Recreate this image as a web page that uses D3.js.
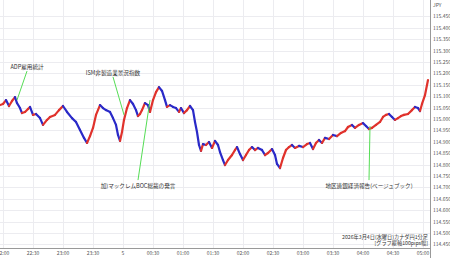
<!DOCTYPE html>
<html>
<head>
<meta charset="utf-8">
<script src="https://cdn.jsdelivr.net/npm/d3@7"></script>
<style>
  body { margin: 0; background: #fff; }
  svg { display: block; font-family: "Noto Sans CJK JP", "Noto Sans", sans-serif; }
</style>
</head>
<body>
<svg id="chart" width="450" height="258"></svg>
<script>
// CAD/JPY 1-minute closes (times before noon are on the 5th)
const times = [
  "21:57","22:00","22:03","22:06","22:09","22:12","22:14","22:17","22:19","22:22",
  "22:25","22:27","22:30","22:33","22:37","22:40","22:44","22:47","22:52","22:56",
  "23:00","23:04","23:09","23:13","23:17","23:21","23:24","23:27","23:30","23:33",
  "23:37","23:40","23:43","23:47","23:50","23:53","23:55","23:57","23:59","00:01",
  "00:04","00:07","00:10","00:13","00:15","00:17","00:19","00:22","00:25","00:27",
  "00:30","00:33","00:36","00:39","00:42","00:44","00:47","00:50","00:53","00:56",
  "00:58","01:01","01:04","01:07","01:10","01:12","01:14","01:16","01:18","01:20",
  "01:23","01:26","01:29","01:32","01:35","01:37","01:40","01:42","01:45","01:49",
  "01:52","01:54","01:57","02:00","02:03","02:06","02:09","02:12","02:15","02:19",
  "02:22","02:25","02:29","02:32","02:34","02:37","02:40","02:43","02:46","02:49",
  "02:52","02:56","03:00","03:04","03:07","03:10","03:13","03:16","03:19","03:22",
  "03:26","03:30","03:34","03:38","03:42","03:45","03:49","03:52","03:56","04:00",
  "04:03","04:06","04:09","04:13","04:17","04:20","04:23","04:26","04:29","04:32",
  "04:35","04:38","04:41","04:45","04:49","04:52","04:55","04:57","04:59","05:02",
  "05:05"
];
const prices = [
  115.061,115.066,115.083,115.057,115.079,115.096,115.070,115.048,115.026,115.031,
  115.044,115.053,115.018,115.022,115.004,114.974,114.996,115.009,115.018,115.039,
  115.057,115.031,115.004,114.987,114.952,114.917,114.895,114.925,114.961,115.018,
  115.061,115.048,115.039,115.031,115.004,114.974,114.930,114.904,114.943,114.996,
  115.048,115.083,115.066,115.039,115.013,115.022,115.039,115.070,115.061,115.031,
  115.083,115.118,115.140,115.123,115.083,115.053,115.061,115.053,115.048,115.031,
  115.048,115.026,115.039,115.057,115.039,114.987,114.943,114.886,114.860,114.890,
  114.886,114.899,114.873,114.904,114.886,114.855,114.820,114.798,114.820,114.842,
  114.864,114.877,114.846,114.820,114.842,114.864,114.877,114.864,114.873,114.864,
  114.842,114.851,114.868,114.842,114.803,114.785,114.829,114.864,114.877,114.886,
  114.873,114.882,114.877,114.890,114.895,114.868,114.895,114.908,114.895,114.917,
  114.912,114.930,114.925,114.939,114.947,114.965,114.974,114.961,114.974,114.982,
  114.969,114.956,114.961,114.974,114.987,115.009,115.018,115.022,115.009,114.996,
  115.004,115.013,115.018,115.022,115.039,115.053,115.048,115.035,115.066,115.105,
  115.171
];

const yTicks = [114.45,114.5,114.55,114.6,114.65,114.7,114.75,114.8,114.85,114.9,114.95,
                115,115.05,115.1,115.15,115.2,115.25,115.3,115.35,115.4,115.45];

const eventLabels = ["ADP雇用統計", "ISM非製造業景況指数", "加)マックレムBOC総裁の発言", "地区連銀経済報告(ベージュブック)"];
const eventTimes = ["22:14", "00:01", "00:27", "04:07"];
const eventPrices = [115.083, 115.018, 115.083, 114.969];

const titleLines = ["2026年3月4日(水曜日)カナダ円1分足", "[グラフ縦軸100pips幅]"];

const W = 450, H = 258;
const plotRight = 430, plotBottom = 248;

function toDate(t) {
    let [h, m] = t.split(":").map(Number);
    return new Date(2026, 2, h < 12 ? 5 : 4, h, m);
}

const points = times.map((t, i) => ({ date: toDate(t), price: prices[i] }));

const x = d3.scaleTime()
    .domain([new Date(2026, 2, 4, 21, 57), new Date(2026, 2, 5, 5, 7)])
    .range([0, plotRight]);
const y = d3.scaleLinear()
    .domain([114.45, 115.45])
    .range([244.4, 16.4]);

const svg = d3.select("#chart");

// grid
svg.append("g")
    .selectAll("line")
    .data(yTicks)
    .join("line")
    .attr("x1", 0).attr("x2", plotRight)
    .attr("y1", d => Math.round(y(d)) + 0.5).attr("y2", d => Math.round(y(d)) + 0.5)
    .attr("stroke", "#ececf0");

const xTicks = x.ticks(d3.timeMinute.every(30));
svg.append("g")
    .selectAll("line")
    .data(xTicks)
    .join("line")
    .attr("x1", d => Math.round(x(d)) + 0.5).attr("x2", d => Math.round(x(d)) + 0.5)
    .attr("y1", 0).attr("y2", plotBottom)
    .attr("stroke", "#ececf0");

// price path, red when rising, blue when falling
let segs = d3.pairs(points);
svg.append("g")
    .selectAll("line")
    .data(segs)
    .join("line")
    .attr("x1", d => x(d[0].date)).attr("y1", d => y(d[0].price))
    .attr("x2", d => x(d[1].date)).attr("y2", d => y(d[1].price))
    .attr("stroke", d => d[1].price >= d[0].price ? "#e0322c" : "#2a2ac8")
    .attr("stroke-width", 2.2)
    .attr("stroke-linecap", "round");

// event annotations
const offsets = [[10, -33], [-11, -42], [-12, 86], [-1, 60]];
eventLabels.forEach((label, i) => {
    let ax = x(toDate(eventTimes[i]));
    let ay = y(eventPrices[i]);
    let lx = ax + offsets[i][0];
    let ly = ay + offsets[i][1];
    svg.append("line")
        .attr("x1", ax).attr("y1", ay)
        .attr("x2", lx).attr("y2", ly + (offsets[i][1] < 0 ? 4 : -6))
        .attr("stroke", "#55dd55")
        .attr("stroke-width", 1);
    svg.append("text")
        .attr("x", lx).attr("y", ly + 2)
        .attr("text-anchor", "middle")
        .attr("font-size", 5.6)
        .attr("fill", "#333")
        .text(label);
});

// axes
svg.append("line")
    .attr("x1", plotRight + 0.5).attr("x2", plotRight + 0.5)
    .attr("y1", 0).attr("y2", H)
    .attr("stroke", "#999");
svg.append("line")
    .attr("x1", 0).attr("x2", plotRight)
    .attr("y1", plotBottom + 0.5).attr("y2", plotBottom + 0.5)
    .attr("stroke", "#999");

svg.append("g")
    .selectAll("text")
    .data(yTicks)
    .join("text")
    .attr("x", plotRight + 3)
    .attr("y", d => y(d) + 2)
    .attr("font-size", 5)
    .attr("fill", "#555")
    .text(d => d3.format(".3f")(d));

svg.append("text")
    .attr("x", plotRight + 3).attr("y", 7)
    .attr("font-size", 5).attr("fill", "#555")
    .text("JPY");

let fmt = d => (d.getHours() === 0 && d.getMinutes() === 0) ? "5" : d3.timeFormat("%H:%M")(d);
let xg = svg.append("g");
xg.append("clipPath").attr("id", "xclip")
    .append("rect").attr("x", 0).attr("y", plotBottom).attr("width", plotRight).attr("height", H - plotBottom);
xg.attr("clip-path", "url(#xclip)")
    .selectAll("text")
    .data(xTicks)
    .join("text")
    .attr("x", d => x(d))
    .attr("y", 255)
    .attr("text-anchor", "middle")
    .attr("font-size", 5)
    .attr("fill", "#555")
    .text(fmt);

// chart caption, bottom right
titleLines.forEach((t, i) => {
    svg.append("text")
        .attr("x", plotRight - 2).attr("y", 239 + i * 6)
        .attr("text-anchor", "end")
        .attr("font-size", 5.2)
        .attr("fill", "#333")
        .text(t);
});
</script>
</body>
</html>
